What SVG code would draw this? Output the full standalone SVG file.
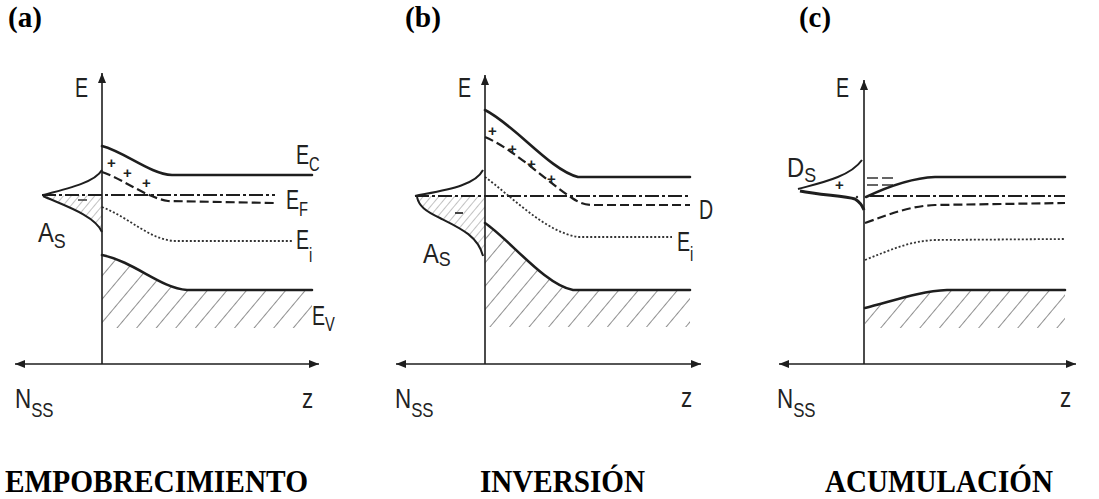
<svg xmlns="http://www.w3.org/2000/svg" width="1099" height="499" viewBox="0 0 1099 499">
<style>
.ax{fill:none;stroke:#1e1e1e;stroke-width:1.6}
.band{fill:none;stroke:#1e1e1e;stroke-width:2.6;stroke-linecap:round}
.dash{fill:none;stroke:#1e1e1e;stroke-width:2.2;stroke-dasharray:9 4}
.dd{fill:none;stroke:#1e1e1e;stroke-width:1.8;stroke-dasharray:14 3 3 3}
.dot{fill:none;stroke:#333;stroke-width:1.8;stroke-dasharray:2 2}
.st{fill:none;stroke:#1e1e1e;stroke-width:2}
.lbl{font-family:"Liberation Sans",Arial,sans-serif;fill:#222;font-size:28px}
.sub{font-size:21px}
.ttl{font-family:"Liberation Serif","Times New Roman",serif;font-weight:bold;fill:#000}
.sgn{font-family:"Liberation Sans",Arial,sans-serif;font-weight:bold;fill:#222;font-size:15px}
</style>
<defs>
<pattern id="hatch" patternUnits="userSpaceOnUse" width="15" height="15" patternTransform="rotate(40)">
<line x1="0" y1="0" x2="0" y2="15" stroke="#333" stroke-width="1.1"/>
</pattern>
<pattern id="hatchf" patternUnits="userSpaceOnUse" width="6" height="6" patternTransform="rotate(40)">
<line x1="0" y1="0" x2="0" y2="6" stroke="#777" stroke-width="0.9"/>
</pattern>
<marker id="arr" viewBox="0 0 10 8" refX="10" refY="4" markerWidth="10" markerHeight="8" markerUnits="userSpaceOnUse" orient="auto-start-reverse">
<path d="M0,0 L10,4 L0,8 Z" fill="#1e1e1e"/>
</marker>
</defs>
<rect width="1099" height="499" fill="#fff"/>

<!-- Panel (a) -->
<g id="panel-a">
<text class="ttl" x="8" y="27" font-size="29" textLength="34" lengthAdjust="spacingAndGlyphs">(a)</text>
<path d="M102,255 C135,262 160,288 187,290 L312,290 L312,328 L102,328 Z" fill="url(#hatch)"/>
<path d="M43,196 C60,204 95,215 102,232 L102,195 Z" fill="url(#hatchf)"/>
<path class="band" d="M102,146 C125,152 150,174 172,175 L312,175"/>
<path class="dash" d="M102,172 C125,180 145,197 168,201 L275,203"/>
<path class="dd" d="M42,195 L275,195"/>
<path class="dot" d="M102,207 C130,218 150,240 175,241 L292,241"/>
<path class="band" d="M102,255 C135,262 160,288 187,290 L312,290"/>
<path class="st" d="M43,195 C70,188 95,182 102,170"/>
<path class="st" d="M43,196 C60,204 95,215 102,232"/>
<line x1="78" y1="200" x2="87" y2="200" stroke="#333" stroke-width="1.5"/>
<text class="sgn" x="107" y="168">+</text>
<text class="sgn" x="123" y="178">+</text>
<text class="sgn" x="142" y="188">+</text>
<text class="lbl" transform="translate(75,97) scale(0.7,1)" font-size="22">E</text>
<text class="lbl" transform="translate(296,164) scale(0.7,1)">E<tspan class="sub" dy="7">C</tspan></text>
<text class="lbl" transform="translate(286,209) scale(0.7,1)">E<tspan class="sub" dy="7">F</tspan></text>
<text class="lbl" transform="translate(296,249) scale(0.7,1)">E<tspan class="sub" dy="13">i</tspan></text>
<text class="lbl" transform="translate(312,325) scale(0.7,1)">E<tspan class="sub" dy="6">V</tspan></text>
<text class="lbl" transform="translate(38,242) scale(0.85,1)">A<tspan class="sub" dy="6">S</tspan></text>
<text class="lbl" transform="translate(15,408) scale(0.8,1)">N<tspan class="sub" dy="9" font-size="22">SS</tspan></text>
<text class="lbl" transform="translate(302,408) scale(0.8,1)" font-size="30">z</text>
<text class="ttl" x="5" y="492" font-size="32" textLength="303" lengthAdjust="spacingAndGlyphs">EMPOBRECIMIENTO</text>
</g>

<!-- Panel (b) -->
<g id="panel-b">
<text class="ttl" x="405" y="27" font-size="29" textLength="36" lengthAdjust="spacingAndGlyphs">(b)</text>
<path d="M485,223 C510,240 545,285 573,290 L690,290 L690,327 L485,327 Z" fill="url(#hatch)"/>
<path d="M417,196 C419,206 425,211 440,218 C460,228 478,236 483,256 L485,256 L485,196 Z" fill="url(#hatchf)"/>
<path class="band" d="M485,110 C515,125 550,170 578,177 L690,177"/>
<path class="dash" d="M485,137 C515,150 545,180 572,198 C578,202 584,205 592,205 L690,205"/>
<path class="dd" d="M415,196 L690,196"/>
<path class="dot" d="M485,177 C510,195 545,232 578,237 L672,237"/>
<path class="band" d="M485,223 C510,240 545,285 573,290 L690,290"/>
<path class="st" d="M415,196 C445,190 475,186 483,170"/>
<path class="st" d="M417,197 C419,206 425,211 440,218 C460,228 478,236 483,256"/>
<line x1="455" y1="213" x2="463" y2="213" stroke="#333" stroke-width="1.8"/>
<text class="sgn" x="488" y="136">+</text>
<text class="sgn" x="508" y="154">+</text>
<text class="sgn" x="527" y="169">+</text>
<text class="sgn" x="547" y="184">+</text>
<text class="lbl" transform="translate(458,97) scale(0.7,1)" font-size="22">E</text>
<text class="lbl" transform="translate(699,219) scale(0.7,1)" font-size="30">D</text>
<text class="lbl" transform="translate(677,251) scale(0.7,1)">E<tspan class="sub" dy="10">i</tspan></text>
<text class="lbl" transform="translate(423,263) scale(0.85,1)">A<tspan class="sub" dy="3">S</tspan></text>
<text class="lbl" transform="translate(395,408) scale(0.8,1)">N<tspan class="sub" dy="9" font-size="22">SS</tspan></text>
<text class="lbl" transform="translate(681,407) scale(0.8,1)" font-size="30">z</text>
<text class="ttl" x="480" y="492" font-size="32" textLength="165" lengthAdjust="spacingAndGlyphs">INVERSIÓN</text>
</g>

<!-- Panel (c) -->
<g id="panel-c">
<text class="ttl" x="799" y="27" font-size="29" textLength="32" lengthAdjust="spacingAndGlyphs">(c)</text>
<path d="M865,308 C890,302 920,291 947,290 L1065,290 L1065,328 L865,328 Z" fill="url(#hatch)"/>
<path class="st" d="M798,189 C820,183 850,177 862,160"/>
<path d="M800,191 C820,195 845,196 855,199 C860,202 862,205 864,210" fill="none" stroke="#1e1e1e" stroke-width="3"/>
<path d="M867,178 L897,178 M867,185 L897,185" fill="none" stroke="#333" stroke-width="1.6" stroke-dasharray="11 4"/>
<path class="band" d="M866,197 C885,188 910,178 935,177 L1065,177"/>
<path class="dd" d="M870,196 L1065,196"/>
<path class="dash" d="M865,223 C890,214 910,206 935,205 L1065,203"/>
<path class="dot" d="M865,260 C890,250 910,241 935,240 L1065,239"/>
<path class="band" d="M865,308 C890,302 920,291 947,290 L1065,290"/>
<text class="sgn" x="835" y="190" font-size="13">+</text>
<circle cx="857" cy="197" r="1.2" fill="#333"/>
<text class="lbl" transform="translate(836,97) scale(0.7,1)" font-size="22">E</text>
<text class="lbl" transform="translate(787,177) scale(0.85,1)">D<tspan class="sub" dy="5">S</tspan></text>
<text class="lbl" transform="translate(777,408) scale(0.8,1)">N<tspan class="sub" dy="9" font-size="22">SS</tspan></text>
<text class="lbl" transform="translate(1060,407) scale(0.8,1)" font-size="30">z</text>
<text class="ttl" x="825" y="492" font-size="32" textLength="228" lengthAdjust="spacingAndGlyphs">ACUMULACIÓN</text>
</g>

<!-- Axes -->
<g id="connectors">
<path class="ax" d="M102,364 L102,73" marker-end="url(#arr)"/>
<path class="ax" d="M15,364 L319,364" marker-start="url(#arr)" marker-end="url(#arr)"/>
<path class="ax" d="M485,364 L485,75" marker-end="url(#arr)"/>
<path class="ax" d="M396,364 L701,364" marker-start="url(#arr)" marker-end="url(#arr)"/>
<path class="ax" d="M864,364 L864,80" marker-end="url(#arr)"/>
<path class="ax" d="M779,364 L1076,364" marker-start="url(#arr)" marker-end="url(#arr)"/>
</g>
</svg>
